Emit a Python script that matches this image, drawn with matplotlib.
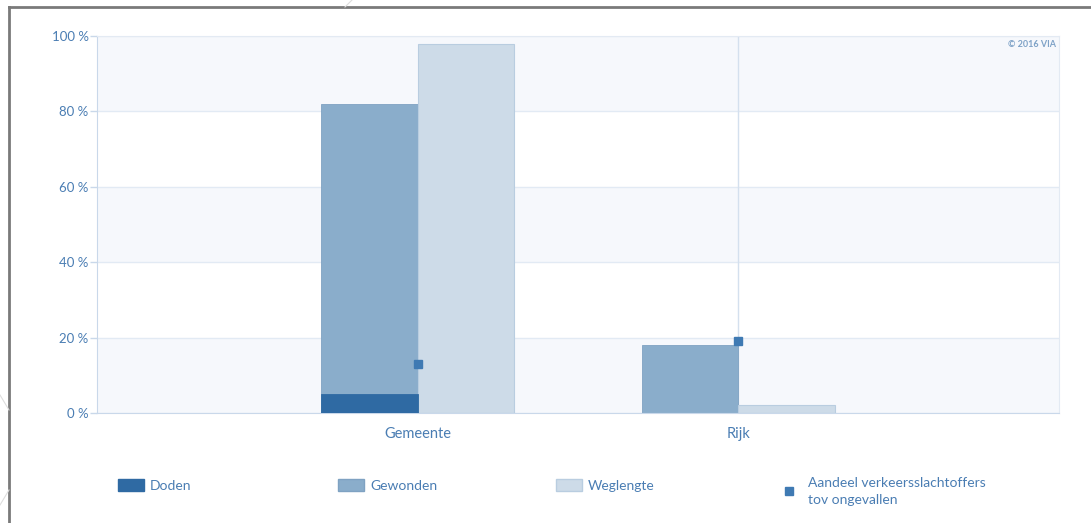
import numpy as np
import matplotlib.pyplot as plt
from matplotlib.patches import Patch
from matplotlib.lines import Line2D

categories = ["Gemeente", "Rijk"]
doden = [5, 0]
gewonden = [82, 18]
weglengte = [98, 2]
aandeel = [13, 19]
yticks = [0, 20, 40, 60, 80, 100]

c_doden = "#2f6aa3"
c_gewonden = "#8aadcb"
c_weg = "#cddbe8"
c_marker = "#3f7ab3"
c_text = "#4a7db3"
c_line = "#c9d8ea"

plt.rcParams['font.family'] = ['Lato', 'DejaVu Sans']

fig = plt.figure(figsize=(10.91, 5.23), dpi=100)
ax = fig.add_axes([97/1091, 1-413/523, (1059-97)/1091, (413-36)/523])

x = np.arange(len(categories))
w = 0.3

# alternating bands
for i in range(0, len(yticks)-1, 2):
    ax.axhspan(yticks[i], yticks[i+1], color="#f6f8fc", zorder=0, lw=0)
for t in yticks:
    ax.axhline(t, color="#e2eaf4", lw=1, zorder=1)

ax.axvline(1, color="#d4e0ee", lw=1, zorder=1)

ax.bar(x - w/2, gewonden, w, color=c_gewonden, edgecolor="#7fa2c2", lw=0.6, zorder=2)
ax.bar(x - w/2, doden, w, color=c_doden, edgecolor=c_doden, lw=0.6, zorder=3)
ax.bar(x + w/2, weglengte, w, color=c_weg, edgecolor="#b9cde0", lw=0.8, zorder=2)
ax.plot(x, aandeel, "s", color=c_marker, ms=5.5, zorder=4, lw=0)

ax.set_xlim(-1, 2)
ax.set_ylim(0, 100)
ax.set_yticks(yticks)
ax.set_yticklabels([f"{t} %" for t in yticks])
ax.set_xticks(x)
ax.set_xticklabels(categories)
ax.tick_params(axis="y", colors=c_line, labelcolor=c_text, labelsize=9.5, length=5, width=1, pad=1)
ax.tick_params(axis="x", length=0, labelcolor=c_text, labelsize=10.5, pad=10)
for s in ["top", "right"]:
    ax.spines[s].set_color("#e3eaf3")
ax.spines["left"].set_color(c_line)
ax.spines["bottom"].set_color(c_line)
ax.text(0.997, 0.99, "© 2016 VIA", transform=ax.transAxes, ha="right", va="top",
        fontsize=6.5, color="#7ea2c7", fontweight="bold")

# legend
items = [
    (Patch(facecolor=c_doden, edgecolor=c_doden), "Doden", 118, 479),
    (Patch(facecolor=c_gewonden, edgecolor="#7fa2c2"), "Gewonden", 338, 479),
    (Patch(facecolor=c_weg, edgecolor="#b9cde0"), "Weglengte", 556, 479),
    (Line2D([], [], marker="s", color=c_marker, ls="", ms=5.5), "Aandeel verkeersslachtoffers\ntov ongevallen", 776, 477),
]
for h, lab, px, py in items:
    lg = fig.legend([h], [lab], loc="upper left", bbox_to_anchor=(px/1091, 1-py/523),
                    frameon=False, borderpad=0, borderaxespad=0, handlelength=1.9,
                    handleheight=0.95, handletextpad=0.4, fontsize=10, labelcolor=c_text)
    for t in lg.get_texts():
        t.set_linespacing(1.45)

# screenshot frame
fig.add_artist(Line2D([9/1091, 9/1091], [0, 1-7/523], color="#7a7a7a", lw=2))
fig.add_artist(Line2D([9/1091, 1], [1-7/523, 1-7/523], color="#7a7a7a", lw=2))
fig.add_artist(Line2D([345/1091, 352/1091], [1-7/523, 1], color="#dddddd", lw=0.8))
fig.add_artist(Line2D([0, 9/1091], [1-395/523, 1-410/523], color="#dddddd", lw=0.8))
fig.add_artist(Line2D([0, 9/1091], [1-505/523, 1-490/523], color="#dddddd", lw=0.8))

fig.savefig("out.png", dpi=100)
